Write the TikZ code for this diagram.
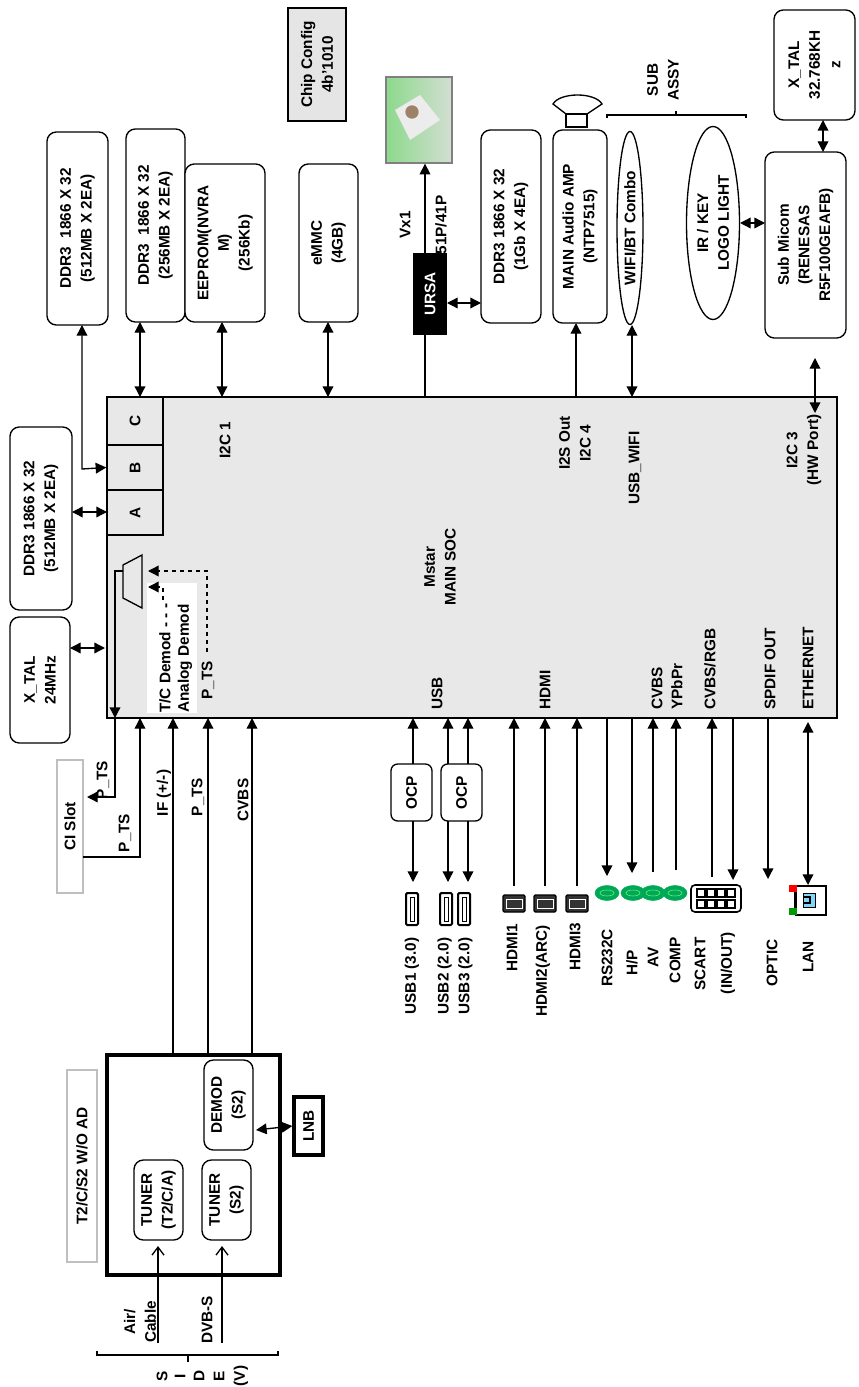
\documentclass[tikz,border=0pt]{standalone}
\usepackage{fontspec}
\setmainfont{Liberation Sans}
\usetikzlibrary{arrows.meta,fit,shapes.geometric}
\begin{document}
\begin{tikzpicture}[x=0.75pt,y=-0.75pt,
  every node/.style={font=\fontsize{11.5}{15.5}\selectfont\bfseries},
  lbl/.style={rotate=90,align=center,inner sep=0pt},
  box/.style={draw,line width=1pt,rounded corners=7pt,inner sep=0pt},
  ln/.style={line width=1pt},
  ar/.style={ln,-{Triangle[length=8pt,width=8pt]}},
  dar/.style={ln,{Triangle[length=8pt,width=8pt]}-{Triangle[length=8pt,width=8pt]}},
  gbox/.style={draw=gray!50,line width=1pt,inner sep=0pt},
  green/.style={fill=teal!70!green,draw=teal!60!green},
]
\useasboundingbox (0,0) rectangle (859,1387);
% SOC
\node[draw,line width=1pt,fill=gray!18,inner sep=0pt,fit={(107,397) (837,718)}] (soc) {};
\node[draw,line width=1pt,fill=gray!18,inner sep=0pt,fit={(107,397) (163,445)}] (bc) {};
\node[draw,line width=1pt,fill=gray!18,inner sep=0pt,fit={(107,445) (163,490)}] (bb) {};
\node[draw,line width=1pt,fill=gray!18,inner sep=0pt,fit={(107,490) (163,535)}] (ba) {};
\node[lbl] at (bc) {C};\node[lbl] at (bb) {B};\node[lbl] at (ba) {A};
\node[lbl] (socl) at (440,567) {Mstar\\MAIN SOC};
\node[lbl] (i2c1) at (225,440) {I2C 1};
\node[lbl] (i2s) at (575,443) {I2S Out\\I2C 4};
\node[lbl] (usbw) at (635,468) {USB\_WIFI};
\node[lbl] (i2c3) at (804,450) {I2C 3\\(HW Port)};
\foreach \x/\t in {437/USB,545/HDMI,657/CVBS,677/YPbPr,710/CVBS\slash RGB,770/SPDIF OUT,808/ETHERNET}
  \node[lbl,anchor=west] at (\x,710) {\t};
% top boxes
\node[box,fit={(47,132) (108,325)}] (ddr1) {}; \node[lbl] at (ddr1) {DDR3\ \ 1866 X 32\\(512MB X 2EA)};
\node[box,fit={(126,129) (185,322)}] (ddr2) {}; \node[lbl] at (ddr2) {DDR3\ \ 1866 X 32\\(256MB X 2EA)};
\node[box,fill=white,fit={(185,164) (265,322)}] (eep) {}; \node[lbl] at (eep) {EEPROM(NVRA\\M)\\(256Kb)};
\node[box,fit={(299,164) (358,322)}] (emmc) {}; \node[lbl] at (emmc) {eMMC\\(4GB)};
\node[draw,line width=1pt,fill=gray!20,inner sep=0pt,fit={(288,8) (346,121)}] (cfg) {}; \node[lbl] at (cfg) {Chip Config\\4b'1010};
\node[draw=gray,line width=1pt,inner sep=0pt,left color=gray!50!green!60,right color=green!15!gray!30,fit={(386,77) (452,163)}] (pic) {};
\fill[white!85!gray] (395,110) -- (420,95) -- (440,120) -- (410,140) -- cycle;
\fill[brown!60!black!70] (412,112) circle (5pt);
\node[lbl] (vx) at (405,225) {Vx1};
\node[lbl] (p51) at (441,225) {51P/41P};
\node[fill=black,inner sep=0pt,fit={(413,253) (447,335)}] (ursa) {}; \node[lbl,text=white] at (ursa) {URSA};
\node[box,fit={(481,130) (541,323)}] (ddr3) {}; \node[lbl] at (ddr3) {DDR3 1866 X 32\\(1Gb X 4EA)};
\node[box,fit={(553,130) (607,323)}] (amp) {}; \node[lbl] at (amp) {MAIN Audio AMP\\(NTP7515)};
\draw[ln] (566,114) rectangle (587,127);
\draw[ln] (566,114) -- (553,104) .. controls (560,92) and (595,92) .. (602,104) -- (587,114);
\draw[ln] (607,118) -- (607,115) -- (746,115) -- (746,118) (676,115) -- (676,111);
\node[lbl] (sub) at (663,80) {SUB\\ASSY};
\node[draw,line width=1pt,ellipse,inner sep=0pt,minimum width=26pt*0.75,minimum height=193pt*0.75] (wifi) at (630,228) {};
\node[lbl] at (wifi) {WIFI/BT Combo};
\node[draw,line width=1pt,ellipse,inner sep=0pt,minimum width=53pt*0.75,minimum height=193pt*0.75] (ir) at (713,223) {};
\node[lbl] at (ir) {IR / KEY\\LOGO LIGHT};
\node[box,fit={(765,152) (846,338)}] (micom) {}; \node[lbl] at (micom) {Sub Micom\\(RENESAS\\R5F100GEAFB)};
\node[box,fit={(774,10) (855,120)}] (xtal2) {}; \node[lbl] at (xtal2) {X\_TAL\\32.768KH\\z};
% left boxes
\node[box,fit={(10,427) (72,610)}] (ddr0) {}; \node[lbl] at (ddr0) {DDR3 1866 X 32\\(512MB X 2EA)};
\node[box,fit={(10,617) (70,743)}] (xtal1) {}; \node[lbl] at (xtal1) {X\_TAL\\24MHz};
% top connectors
\draw[dar] (82,325) -- (82,469) -- (bb.west);
\draw[dar] (140,322) -- (140,397);
\draw[dar] (222,322) -- (222,397);
\draw[dar] (328,322) -- (328,397);
\coordinate (u1) at (425,335); \coordinate (u2) at (425,253);
\draw[ln] (u1 |- soc.north) -- (u1);
\draw[ar] (u2) -- (u2 |- pic.south);
\draw[dar] (447,303) -- (481,303);
\draw[ar] (576,397) -- (576,323);
\draw[dar] (632,325) -- (632,397);
\draw[dar] (740,223) -- (765,223);
\draw[dar] (823,120) -- (823,152);
\draw[dar] (815,358) -- (815,413);
\draw[dar] (72,512) -- (107,512);
\draw[dar] (70,648) -- (105,648);
% mux
\draw[line width=1pt,fill=gray!18] (123,565) -- (142,555) -- (142,608) -- (123,598) -- cycle;
\node[fill=white,inner sep=0pt,fit={(147,583) (197,713)}] (wb) {};
\node[lbl,anchor=west] at (165,713) {T/C Demod - - -};
\node[lbl,anchor=west] at (185,713) {Analog Demod};
\node[lbl,anchor=west] at (208,700) {P\_TS};
\draw[ln,dashed,-{Triangle[length=8pt,width=8pt]}] (207,652) -- (207,571) -- (148,571);
\draw[ln,dashed,-{Triangle[length=8pt,width=8pt]}] (163,600) -- (163,587) -- (148,587);
\draw[ln,-{Triangle[length=8pt,width=8pt]}] (123,571) -- (115,571) -- (115,718);
\draw[ar] (115,718) -- (115,797) -- (87,797);
\node[gbox,fit={(57,760) (83,893)}] (ci) {}; \node[lbl] at (ci) {CI Slot};
\draw[ar] (83,857) -- (140,857) -- (140,718);
\node[lbl] at (103,780) {P\_TS};
\node[lbl] at (125,833) {P\_TS};
% tuner
\node[draw,line width=3pt,inner sep=0pt,fit={(107,1055) (280,1275)}] (tun) {};
\node[gbox,fit={(67,1070) (97,1262)}] (t2) {}; \node[lbl] at (t2) {T2/C/S2 W/O AD};
\node[box,fit={(134,1160) (183,1240)}] (ta) {}; \node[lbl] at (ta) {TUNER\\(T2/C/A)};
\node[box,fit={(202,1160) (251,1240)}] (ts) {}; \node[lbl] at (ts) {TUNER\\(S2)};
\node[box,fit={(204,1060) (253,1150)}] (dem) {}; \node[lbl] at (dem) {DEMOD\\(S2)};
\node[draw,line width=3pt,inner sep=2pt,fit={(297,1100) (320,1152)}] (lnb) {}; \node[lbl] at (lnb) {LNB};
\draw[dar] (256,1130) -- (lnb.west);
\draw[ar] (173,1053) -- (173,718);
\draw[ar] (208,1053) -- (208,718);
\draw[ar] (252,1053) -- (252,718);
\node[lbl] at (164,793) {IF (+/-)};
\node[lbl] at (198,797) {P\_TS};
\node[lbl] at (243,800) {CVBS};
\draw[ln,-{Straight Barb[length=6pt,width=9pt]}] (158,1343) -- (158,1246);
\draw[ln,-{Straight Barb[length=6pt,width=9pt]}] (222,1343) -- (222,1246);
\node[lbl] at (140,1322) {Air/\\Cable};
\node[lbl] at (207,1320) {DVB-S};
\draw[ln] (97,1351) -- (97,1355) -- (278,1355) -- (278,1351) (188,1355) -- (188,1362);
\foreach \x/\t in {162/S,180/I,199/D,219/E,241/(V)} \node[lbl] at (\x,1376) {\t};
% bottom ports
\node[box,rounded corners=5pt,fit={(391,764) (432,821)}] (ocp1) {}; \node[lbl] at (ocp1) {OCP};
\node[box,rounded corners=5pt,fit={(441,764) (482,821)}] (ocp2) {}; \node[lbl] at (ocp2) {OCP};
\draw[ar] (413,764) -- (413,718); \draw[ar] (413,821) -- (413,882);
\draw[ar] (448,764) -- (448,718); \draw[ar] (448,821) -- (448,882);
\draw[ar] (468,764) -- (468,718); \draw[ar] (468,821) -- (468,882);
\foreach \x in {412,446,464}{\draw[line width=1.5pt,rounded corners=1pt] (\x-6,893) rectangle (\x+6,925);\draw[line width=0.6pt] (\x-2,897) rectangle (\x+2,921);}
\foreach \x in {514,545,577}{\draw[ar] (\x,886) -- (\x,718);
  \draw[line width=1pt,fill=black!80,rounded corners=1pt] (\x-11,895) rectangle (\x+11,912);
  \draw[white,line width=0.5pt] (\x-8,899) rectangle (\x+8,908);}
\draw[ar] (607,718) -- (607,876);
\draw[ar] (632,718) -- (632,873);
\draw[ar] (653,872) -- (653,718);
\draw[ar] (676,870) -- (676,718);
\draw[ar] (712,877) -- (712,718);
\draw[ar] (733,718) -- (733,880);
\draw[ar] (768,718) -- (768,879);
\draw[dar] (808,722) -- (808,885);
\foreach \x in {607,633,653,675}{\draw[green] (\x,893) ellipse (12pt*0.75 and 7.5pt*0.75);\draw[green!60!white,fill=none] (\x,893) ellipse (7pt*0.75 and 3pt*0.75);}
\node[box,rounded corners=3pt,line width=1.2pt,fit={(691,885) (741,912)}] (scart) {};
\foreach \x in {697,707,717,727}{\draw[line width=0.8pt] (\x,889) rectangle (\x+8,897);\draw[line width=0.8pt] (\x,900) rectangle (\x+8,908);}
\draw[line width=0.8pt,fill=white] (796,886) rectangle (826,915);
\draw[fill=cyan!50,draw=black] (803,893) rectangle (815,907);
\draw[line width=1pt] (803,897) -- (810,897) -- (810,903) -- (803,903);
\draw (794,890) -- (794,911);
\fill[red] (789,885) rectangle (797,892);
\fill[green!60!black] (789,908) rectangle (797,915);
\node[lbl] at (412,976) {USB1 (3.0)};
\node[lbl] at (455,976) {USB2 (2.0)\\USB3 (2.0)};
\node[lbl] at (512,948) {HDMI1};
\node[lbl] at (543,971) {HDMI2(ARC)};
\node[lbl] at (575,947) {HDMI3};
\node[lbl] at (607,958) {RS232C};
\node[lbl] at (632,963) {H/P};
\node[lbl] at (653,957) {AV};
\node[lbl] at (675,960) {COMP};
\node[lbl] at (700,964) {SCART};
\node[lbl] at (728,963) {(IN/OUT)};
\node[lbl] at (772,963) {OPTIC};
\node[lbl] at (808,957) {LAN};
\end{tikzpicture}
\end{document}
